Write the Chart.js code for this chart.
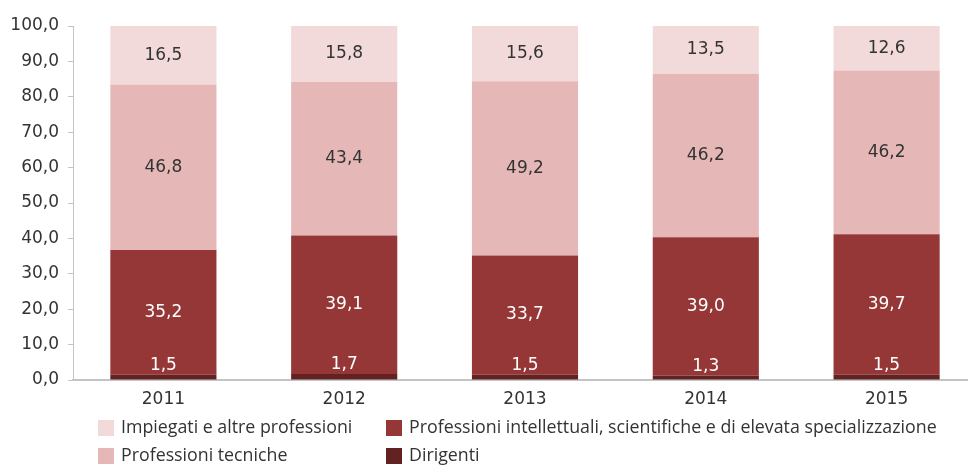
<!DOCTYPE html>
<html><head><meta charset="utf-8">
<script src="https://cdn.jsdelivr.net/npm/chart.js@4.4.1/dist/chart.umd.min.js"></script>
<style>
html,body{margin:0;padding:0;background:#fff;overflow:hidden;}
#wrap{position:relative;width:977px;height:466px;}
</style></head>
<body><div id="wrap"><canvas id="c"></canvas></div>
<script>
const categories = ['2011','2012','2013','2014','2015'];
const dirigenti = [1.5, 1.7, 1.5, 1.3, 1.5];
const intellettuali = [35.2, 39.1, 33.7, 39.0, 39.7];
const tecniche = [46.8, 43.4, 49.2, 46.2, 46.2];
const impiegati = [16.5, 15.8, 15.6, 13.5, 12.6];
const yTicks = [0,10,20,30,40,50,60,70,80,90,100];

const NUMFONT = '"DejaVu Sans", sans-serif';
const FONT = '"Open Sans", sans-serif';
const TXT = '#333333';
const fmt = v => v.toFixed(1).replace('.', ',');

const series = [
  {label:'Dirigenti', data:dirigenti, color:'#622222', text:'#ffffff'},
  {label:'Professioni intellettuali, scientifiche e di elevata specializzazione', data:intellettuali, color:'#963737', text:'#ffffff'},
  {label:'Professioni tecniche', data:tecniche, color:'#e6b7b7', text:TXT},
  {label:'Impiegati e altre professioni', data:impiegati, color:'#f2dadb', text:TXT}
];
const legendOrder = [
  [3, 98, 428], [1, 386, 428],
  [2, 98, 456], [0, 386, 456]
];

const labelPlugin = {
  id:'labels',
  afterDatasetsDraw(chart){
    const ctx = chart.ctx;
    ctx.save();
    ctx.font = '17px ' + NUMFONT;
    ctx.textAlign = 'center';
    ctx.textBaseline = 'middle';
    chart.data.datasets.forEach((ds, di) => {
      const meta = chart.getDatasetMeta(di);
      meta.data.forEach((bar, i) => {
        const v = ds.data[i];
        let y;
        if (di === 0) { y = bar.y - 9; } else { y = (bar.y + bar.base) / 2; }
        ctx.fillStyle = series[di].text;
        ctx.fillText(fmt(v), bar.x, y);
      });
    });
    ctx.restore();
  },
  afterDraw(chart){
    const ctx = chart.ctx;
    ctx.save();
    ctx.font = '17.8px ' + FONT;
    ctx.textBaseline = 'middle';
    ctx.textAlign = 'left';
    legendOrder.forEach(([si, x, y]) => {
      ctx.fillStyle = series[si].color;
      ctx.fillRect(x, y - 8, 16, 16);
      ctx.fillStyle = TXT;
      ctx.fillText(series[si].label, x + 23, y);
    });
    ctx.restore();
  }
};

new Chart(document.getElementById('c'), {
  type:'bar',
  data:{
    labels:categories,
    datasets: series.map(s => ({label:s.label, data:s.data, backgroundColor:s.color, borderWidth:0, barPercentage:0.587, categoryPercentage:1}))
  },
  options:{
    responsive:true, maintainAspectRatio:false, animation:false,
    layout:{padding:{top:26, bottom:56, left:0, right:0}},
    plugins:{legend:{display:false}, tooltip:{enabled:false}},
    scales:{
      x:{stacked:true,
         grid:{display:false},
         border:{display:true, color:'#c4c4c4', width:2},
         ticks:{color:TXT, font:{family:NUMFONT, size:17}, padding:1},
         afterFit(s){ s.height = 30; }
      },
      y:{stacked:true, min:0, max:100,
         afterBuildTicks(s){ s.ticks = yTicks.map(v => ({value:v})); },
         grid:{drawOnChartArea:false, drawTicks:true, tickLength:5, color:'#c4c4c4'},
         border:{display:true, color:'#c4c4c4', width:1},
         ticks:{color:TXT, font:{family:NUMFONT, size:17}, padding:9, callback:v => fmt(v)},
         afterFit(s){ s.width = 73; }
      }
    }
  },
  plugins:[labelPlugin]
});
</script></body></html>
